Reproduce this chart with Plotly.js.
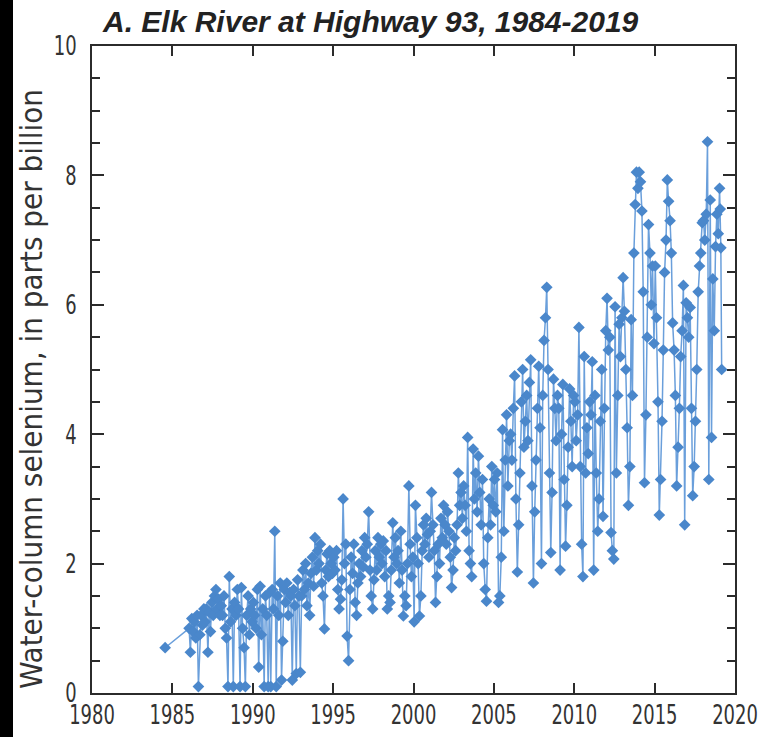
<!DOCTYPE html>
<html>
<head>
<meta charset="utf-8">
<script src="https://cdn.plot.ly/plotly-3.0.1.min.js"></script>
<style>
html,body{margin:0;padding:0;}
body{background:linear-gradient(to right,#000 0,#000 13px,#fff 13px,#fff 100%);}
#chart{width:764px;height:737px;}
</style>
</head>
<body>
<div id="chart"></div>
<script>
// Sample dates (decimal years) and water-column selenium (ppb)
const t1980s = [1984.55,
  1986.04,1986.12,1986.21,1986.29,1986.37,1986.46,1986.54,1986.62,1986.71,1986.79,1986.87,1986.96,
  1987.04,1987.12,1987.21,1987.29,1987.37,1987.46,1987.54,1987.62,1987.71,1987.79,1987.87,1987.96,
  1988.04,1988.12,1988.21,1988.29,1988.37,1988.46,1988.54,1988.62,1988.71,1988.79,1988.87,1988.96,
  1989.04,1989.12,1989.21,1989.29,1989.37,1989.46,1989.54,1989.62,1989.71,1989.79,1989.87,1989.96];
const se1980s = [0.7,
  1.0,0.63,1.15,0.95,1.1,0.85,1.2,0.1,0.9,1.2,1.05,1.3,
  1.1,1.3,0.63,1.25,0.95,1.4,1.2,1.5,1.6,1.3,1.45,1.2,
  1.35,1.2,1.5,1.0,0.85,0.1,1.8,1.1,1.3,0.1,1.4,1.2,
  1.6,1.3,0.1,1.63,1.0,0.7,0.1,1.2,1.5,0.9,1.3,1.1];

const t1990s = [
  1990.04,1990.12,1990.21,1990.29,1990.37,1990.46,1990.54,1990.62,1990.71,1990.79,1990.87,1990.96,
  1991.04,1991.12,1991.21,1991.29,1991.37,1991.46,1991.54,1991.62,1991.71,1991.79,1991.87,1991.96,
  1992.04,1992.12,1992.21,1992.29,1992.37,1992.46,1992.54,1992.62,1992.71,1992.79,1992.87,1992.96,
  1993.04,1993.12,1993.21,1993.29,1993.37,1993.46,1993.54,1993.62,1993.71,1993.79,1993.87,1993.96,
  1994.04,1994.12,1994.21,1994.29,1994.37,1994.46,1994.54,1994.62,1994.71,1994.79,1994.87,1994.96,
  1995.04,1995.12,1995.21,1995.29,1995.37,1995.46,1995.54,1995.62,1995.71,1995.79,1995.87,1995.96,
  1996.04,1996.12,1996.21,1996.29,1996.37,1996.46,1996.54,1996.62,1996.71,1996.79,1996.87,1996.96,
  1997.04,1997.12,1997.21,1997.29,1997.37,1997.46,1997.54,1997.62,1997.71,1997.79,1997.87,1997.96,
  1998.04,1998.12,1998.21,1998.29,1998.37,1998.46,1998.54,1998.62,1998.71,1998.79,1998.87,1998.96,
  1999.04,1999.12,1999.21,1999.29,1999.37,1999.46,1999.54,1999.62,1999.71,1999.79,1999.87,1999.96];
const se1990s = [
  1.4,1.2,1.0,1.6,0.4,1.65,0.9,1.3,0.1,1.5,1.2,0.1,
  1.55,0.1,1.6,1.3,2.5,0.1,1.5,1.2,1.7,0.2,0.8,1.6,
  1.4,1.7,1.2,1.55,1.5,0.2,1.6,1.35,0.3,1.75,1.5,0.32,
  1.5,1.9,1.6,2.0,1.35,1.7,1.2,1.85,2.1,1.65,2.4,1.9,
  2.2,2.0,2.3,1.7,1.5,0.99,1.9,2.15,1.8,2.2,2.0,1.85,
  2.1,1.9,2.2,1.6,1.3,1.45,1.75,3.0,2.0,2.3,0.88,0.5,
  1.6,2.1,1.85,2.3,1.4,1.2,1.7,2.0,1.8,2.2,1.95,2.4,
  2.1,2.3,2.8,1.9,1.5,1.3,1.75,2.2,1.9,2.4,2.1,2.3,
  2.0,2.35,1.8,2.2,1.3,1.5,1.4,1.9,2.63,2.1,2.4,2.0,
  2.2,1.7,2.5,1.9,1.19,1.5,1.35,2.0,3.2,2.3,1.8,2.1];

const t2000s = [
  2000.04,2000.12,2000.21,2000.29,2000.37,2000.46,2000.54,2000.62,2000.71,2000.79,2000.87,2000.96,
  2001.04,2001.12,2001.21,2001.29,2001.37,2001.46,2001.54,2001.62,2001.71,2001.79,2001.87,2001.96,
  2002.04,2002.12,2002.21,2002.29,2002.37,2002.46,2002.54,2002.62,2002.71,2002.79,2002.87,2002.96,
  2003.04,2003.12,2003.21,2003.29,2003.37,2003.46,2003.54,2003.62,2003.71,2003.79,2003.87,2003.96,
  2004.04,2004.12,2004.21,2004.29,2004.37,2004.46,2004.54,2004.62,2004.71,2004.79,2004.87,2004.96,
  2005.04,2005.12,2005.21,2005.29,2005.37,2005.46,2005.54,2005.62,2005.71,2005.79,2005.87,2005.96,
  2006.04,2006.12,2006.21,2006.29,2006.37,2006.46,2006.54,2006.62,2006.71,2006.79,2006.87,2006.96,
  2007.04,2007.12,2007.21,2007.29,2007.37,2007.46,2007.54,2007.62,2007.71,2007.79,2007.87,2007.96,
  2008.04,2008.12,2008.21,2008.29,2008.37,2008.46,2008.54,2008.62,2008.71,2008.79,2008.87,2008.96,
  2009.04,2009.12,2009.21,2009.29,2009.37,2009.46,2009.54,2009.62,2009.71,2009.79,2009.87,2009.96];
const se2000s = [
  1.1,2.9,2.4,2.0,1.19,1.5,2.2,2.6,2.3,2.7,2.45,2.1,
  2.5,3.1,2.6,2.2,1.4,1.8,2.3,2.0,2.7,2.4,2.9,2.6,
  2.3,2.8,2.5,2.1,1.63,1.9,2.4,2.2,2.6,3.4,2.9,3.1,
  2.7,3.2,2.9,2.5,3.95,2.2,2.0,1.8,3.77,3.0,3.4,2.8,
  3.66,3.1,2.6,3.3,2.0,1.6,1.42,2.4,3.0,2.6,3.5,2.9,
  3.3,2.8,3.4,1.4,1.5,2.1,4.07,2.5,3.6,4.3,3.2,3.9,
  4.0,3.6,4.4,4.9,3.0,1.87,2.6,3.4,4.5,5.0,3.8,4.2,
  4.6,3.9,4.8,5.15,3.2,1.7,2.8,3.6,4.4,5.05,4.1,2.0,
  4.6,5.45,5.8,6.27,5.0,3.4,2.17,3.1,4.85,4.4,3.9,4.6,
  4.4,1.9,4.0,4.77,3.3,2.27,2.9,3.8,4.7,4.2,3.5,4.6];

const t2010s = [
  2010.04,2010.12,2010.21,2010.29,2010.37,2010.46,2010.54,2010.62,2010.71,2010.79,2010.87,2010.96,
  2011.04,2011.12,2011.21,2011.29,2011.37,2011.46,2011.54,2011.62,2011.71,2011.79,2011.87,2011.96,
  2012.04,2012.12,2012.21,2012.29,2012.37,2012.46,2012.54,2012.62,2012.71,2012.79,2012.87,2012.96,
  2013.04,2013.12,2013.21,2013.29,2013.37,2013.46,2013.54,2013.62,2013.71,2013.79,2013.87,2013.96,
  2014.04,2014.12,2014.21,2014.29,2014.37,2014.46,2014.54,2014.62,2014.71,2014.79,2014.87,2014.96,
  2015.04,2015.12,2015.21,2015.29,2015.37,2015.46,2015.54,2015.62,2015.71,2015.79,2015.87,2015.96,
  2016.04,2016.12,2016.21,2016.29,2016.37,2016.46,2016.54,2016.62,2016.71,2016.79,2016.87,2016.96,
  2017.04,2017.12,2017.21,2017.29,2017.37,2017.46,2017.54,2017.62,2017.71,2017.79,2017.87,2017.96,
  2018.04,2018.12,2018.21,2018.29,2018.37,2018.46,2018.54,2018.62,2018.71,2018.79,2018.87,2018.96,
  2019.04,2019.08,2019.12,2019.17];
const se2010s = [
  4.5,3.9,4.3,5.65,3.5,2.3,1.8,5.2,3.4,4.1,3.7,4.5,
  4.3,5.12,1.9,4.6,3.4,2.5,3.0,4.2,5.0,2.73,4.4,5.6,
  6.1,5.3,5.5,2.48,2.2,2.07,5.97,3.4,4.6,5.7,5.2,5.8,
  6.42,5.9,5.0,4.1,2.9,3.5,5.77,4.6,6.8,7.55,8.05,7.8,
  8.05,7.9,7.45,6.2,3.25,4.3,5.5,7.24,6.8,6.0,6.6,5.4,
  6.6,5.8,4.5,2.75,3.3,4.2,5.3,6.5,7.0,7.93,7.6,7.3,
  6.8,5.72,5.3,4.6,3.2,3.8,4.4,5.2,5.6,6.3,2.6,6.03,
  5.8,5.5,5.96,4.4,3.05,3.5,4.2,5.0,6.2,6.6,6.8,7.27,
  7.3,7.0,7.4,8.52,3.3,7.62,3.95,6.4,5.6,6.9,7.4,7.1,
  7.8,7.48,6.88,5.0];

const xTickVals = [1980,1985,1990,1995,2000,2005,2010,2015,2020];
const yTickVals = [0,2,4,6,8,10];
const yTitle = 'Water-column selenium, in parts per billion';

const dates = [].concat(t1980s, t1990s, t2000s, t2010s);
const selenium = [].concat(se1980s, se1990s, se2000s, se2010s);

const narrow = '"DejaVu Sans Condensed", "DejaVu Sans", sans-serif';
const axisColor = '#2b2b2b';

const trace = {
  x: dates, y: selenium, type: 'scatter', mode: 'lines+markers',
  line: {color: '#6a9fdb', width: 1.5},
  marker: {symbol: 'diamond', size: 9, color: '#4a87cb'},
  hoverinfo: 'x+y', showlegend: false
};

const layout = {
  width: 764, height: 737,
  margin: {l: 92, r: 29, t: 46, b: 44, pad: 0},
  paper_bgcolor: 'rgba(0,0,0,0)', plot_bgcolor: '#ffffff',
  title: {
    text: 'A. Elk River at Highway 93, 1984-2019',
    font: {family: '"Liberation Sans", Arial, sans-serif', size: 30, weight: 'bold', style: 'italic', color: '#222'},
    xref: 'container', yref: 'container', x: 103/764, xanchor: 'left', y: 1 - 21/737, yanchor: 'middle'
  },
  xaxis: {
    range: [1980, 2020], tickmode: 'array', tickvals: xTickVals, ticktext: xTickVals.map(String),
    ticks: 'inside', ticklen: 10, tickwidth: 2, tickcolor: axisColor,
    showline: true, linewidth: 2, linecolor: axisColor, mirror: 'ticks',
    showgrid: false, zeroline: false, ticklabeloverflow: 'allow', ticklabelstandoff: -3,
    tickfont: {family: narrow, size: 27, color: '#333'}
  },
  yaxis: {
    range: [0, 10], tickmode: 'array', tickvals: yTickVals, ticktext: yTickVals.map(String),
    ticks: 'inside', ticklen: 12, tickwidth: 2, tickcolor: axisColor,
    minor: {dtick: 0.5, ticks: 'inside', ticklen: 8, tickwidth: 2, tickcolor: axisColor, showgrid: false},
    showline: true, linewidth: 2, linecolor: axisColor, mirror: 'ticks',
    showgrid: false, zeroline: false, ticklabelstandoff: 8, ticklabeloverflow: 'allow',
    tickfont: {family: narrow, size: 27, color: '#333'}
  },
  annotations: [{
    text: yTitle, textangle: -90, showarrow: false,
    xref: 'paper', yref: 'paper', x: (31 - 92) / 643, y: (693 - 389) / 647,
    xanchor: 'center', yanchor: 'middle',
    font: {family: narrow, size: 31, color: '#333'}
  }]
};

Plotly.newPlot('chart', [trace], layout, {displayModeBar: false, staticPlot: true}).then(function (gd) {
  // tall, narrow tick numerals as in the original figure
  gd.querySelectorAll('.xtick text, .ytick text').forEach(function (t) {
    var w = t.getComputedTextLength();
    t.setAttribute('textLength', (w * 0.74).toFixed(1));
    t.setAttribute('lengthAdjust', 'spacingAndGlyphs');
  });
});
</script>
</body>
</html>
